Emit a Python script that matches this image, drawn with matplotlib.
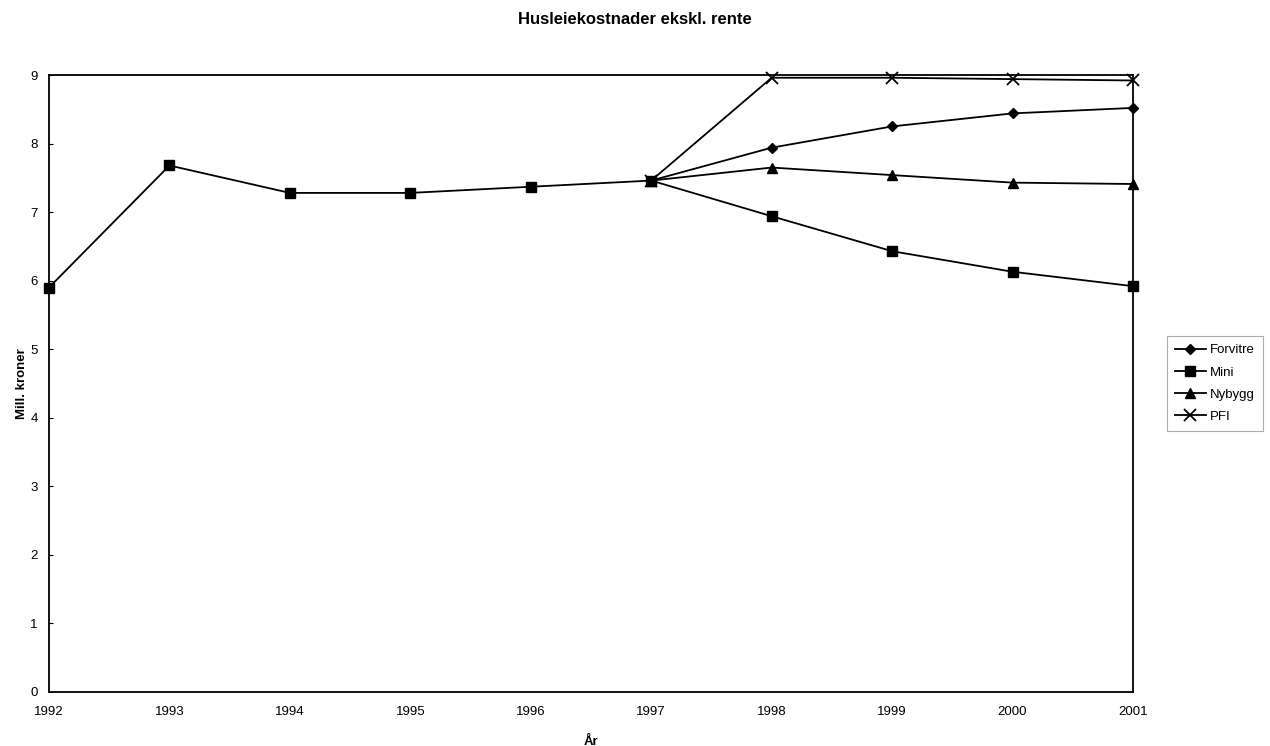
import matplotlib.pyplot as plt
import numpy as np

plt.rcParams['font.family'] = ['Liberation Sans', 'DejaVu Sans']

aar = [1992, 1993, 1994, 1995, 1996, 1997, 1998, 1999, 2000, 2001]
felles = [5.9, 7.68, 7.28, 7.28, 7.37, 7.46]

forvitre = [7.46, 7.94, 8.25, 8.44, 8.52]
mini = felles + [6.94, 6.43, 6.13, 5.92]
nybygg = [7.46, 7.65, 7.54, 7.43, 7.41]
pfi = [7.46, 8.96, 8.96, 8.94, 8.92]

x = np.arange(len(aar))
x_slutt = x[5:]

fig = plt.figure(figsize=(12.7, 7.46), dpi=100)
ax = fig.add_axes([49 / 1270, 1 - 692 / 746, (1133 - 49) / 1270, (692 - 75) / 746])

ax.plot(x_slutt, forvitre, color="black", lw=1.3, marker="D", ms=5.5, label="Forvitre", zorder=3, clip_on=False)
ax.plot(x, mini, color="black", lw=1.3, marker="s", ms=7, label="Mini", zorder=5, clip_on=False)
ax.plot(x_slutt, nybygg, color="black", lw=1.3, marker="^", ms=7, label="Nybygg", zorder=3, clip_on=False)
ax.plot(x_slutt, pfi, color="black", lw=1.3, marker="x", ms=8, mew=1.3, label="PFI", zorder=4, clip_on=False)

ax.set_xlim(0, len(aar) - 1)
ax.set_ylim(0, 9)
ax.set_xticks(x)
ax.set_xticklabels([str(a) for a in aar], fontsize=9.5)
ax.set_yticks(range(0, 10))
ax.tick_params(axis="y", labelsize=9.5, length=3, direction="in", pad=8)
ax.tick_params(axis="x", length=0, pad=10)
for s in ax.spines.values():
    s.set_linewidth(1.3)

ax.set_xlabel("År", fontsize=9.5, fontweight="bold", labelpad=13)
ax.set_ylabel("Mill. kroner", fontsize=9.5, fontweight="bold", labelpad=2)
fig.text(0.5, 1 - 20 / 746, "Husleiekostnader ekskl. rente", ha="center", va="center",
         fontsize=12, fontweight="bold")

leg = ax.legend(loc="center left", bbox_to_anchor=(1.025, 0.5), fontsize=9.5, frameon=True,
                fancybox=False, edgecolor="#999999", handlelength=2.4, borderpad=0.6,
                labelspacing=0.75, handletextpad=0.3)
leg.get_frame().set_linewidth(0.8)

fig.savefig("out.png", dpi=100)
